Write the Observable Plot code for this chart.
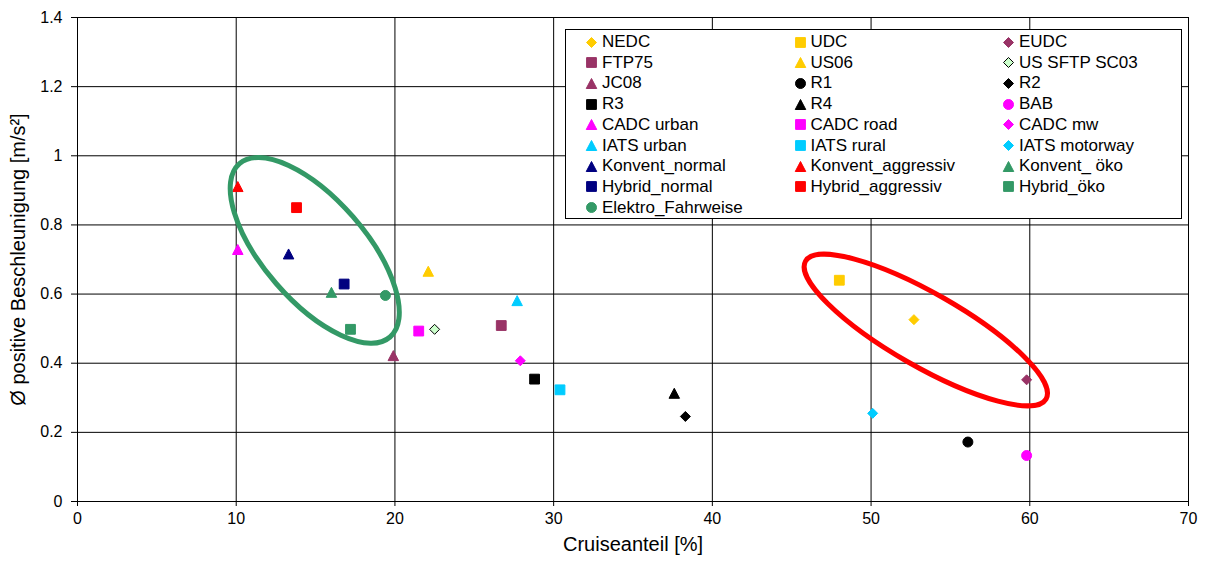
<!DOCTYPE html>
<html>
<head>
<meta charset="utf-8">
<script src="https://cdn.jsdelivr.net/npm/d3@7"></script>
<script src="https://cdn.jsdelivr.net/npm/@observablehq/plot@0.6"></script>
<style>
html,body{margin:0;padding:0;background:#fff;}
#wrap{position:relative;width:1206px;height:566px;font-family:"Liberation Sans",Arial,sans-serif;color:#000;}
#legend{position:absolute;left:565px;top:29px;width:617px;height:190px;border:1px solid #000;background:#fff;box-sizing:border-box;}
.item{position:absolute;height:20px;display:flex;align-items:center;font-size:17px;white-space:pre;line-height:20px;}
.item svg{margin-right:4px;flex:none;}
</style>
</head>
<body>
<div id="wrap"></div>
<script>
// ---- data ----
const names = ["NEDC","UDC","EUDC","FTP75","US06","US SFTP SC03","JC08","R1","R2","R3","R4","BAB",
  "CADC urban","CADC road","CADC mw","IATS urban","IATS rural","IATS motorway",
  "Konvent_normal","Konvent_aggressiv","Konvent_ öko","Hybrid_normal","Hybrid_aggressiv","Hybrid_öko","Elektro_Fahrweise"];
const cruise = [52.7, 48.0, 59.8, 26.7, 22.1, 22.5, 19.9, 56.1, 38.3, 28.8, 37.6, 59.8,
  10.1, 21.5, 27.9, 27.7, 30.4, 50.1,
  13.3, 10.1, 16.0, 16.8, 13.8, 17.2, 19.4];
const accel = [0.526, 0.640, 0.352, 0.509, 0.666, 0.498, 0.422, 0.172, 0.246, 0.354, 0.313, 0.133,
  0.729, 0.493, 0.407, 0.581, 0.323, 0.255,
  0.716, 0.911, 0.605, 0.629, 0.850, 0.498, 0.596];
const shapes = ["diamond","square","diamond","square","triangle","diamond","triangle","circle","diamond","square","triangle","circle",
  "triangle","square","diamond","triangle","square","diamond",
  "triangle","triangle","triangle","square","square","square","circle"];
const fills = ["#FFCC00","#FFCC00","#993366","#993366","#FFCC00","#CCFFCC","#993366","#000000","#000000","#000000","#000000","#FF00FF",
  "#FF00FF","#FF00FF","#FF00FF","#00CCFF","#00CCFF","#00CCFF",
  "#000080","#FF0000","#339966","#000080","#FF0000","#339966","#339966"];
const strokes = fills.map((c, i) => names[i] === "US SFTP SC03" ? "#000000" : c);
const xTicks = [0, 10, 20, 30, 40, 50, 60, 70];
const yTicks = [0, 0.2, 0.4, 0.6, 0.8, 1, 1.2, 1.4];
const ellipseCx = [14.98, 53.48];
const ellipseCy = [0.725, 0.4946];
const ellipseColors = ["#339966", "#FF0000"];

// ---- styles for annotations (pixel radii, rotation) ----
const ellipseStyle = [{rx: 114.8, ry: 50.9, angle: 49}, {rx: 138.6, ry: 36.6, angle: 29.8}];

// ---- custom Excel-like symbols ----
const half = size => Math.sqrt(size / Math.PI);
const sym = {
  square: {draw(ctx, size) { const s = half(size) * 0.98; ctx.rect(-s, -s, 2 * s, 2 * s); }},
  diamond: {draw(ctx, size) { const s = half(size); ctx.moveTo(0, -s); ctx.lineTo(s, 0); ctx.lineTo(0, s); ctx.lineTo(-s, 0); ctx.closePath(); }},
  triangle: {draw(ctx, size) { const s = half(size); ctx.moveTo(0, -s); ctx.lineTo(s * 1.05, s); ctx.lineTo(-s * 1.05, s); ctx.closePath(); }},
  circle: {draw(ctx, size) { const s = half(size); ctx.moveTo(s, 0); ctx.arc(0, 0, s, 0, 2 * Math.PI); }}
};

const idx = d3.range(names.length);
const dotMarks = Object.keys(sym).map(shape =>
  Plot.dot(idx.filter(i => shapes[i] === shape), {
    x: i => cruise[i], y: i => accel[i],
    symbol: sym[shape], r: 5,
    fill: i => fills[i], stroke: i => strokes[i], strokeWidth: 1
  })
);

const ellipseMark = (index, scales) => {
  const g = d3.create("svg:g");
  ellipseCx.forEach((cx, k) => {
    g.append("ellipse")
      .attr("cx", 0).attr("cy", 0)
      .attr("rx", ellipseStyle[k].rx).attr("ry", ellipseStyle[k].ry)
      .attr("transform", `translate(${scales.x(cx)},${scales.y(ellipseCy[k])}) rotate(${ellipseStyle[k].angle})`)
      .attr("fill", "none").attr("stroke", ellipseColors[k]).attr("stroke-width", 5);
  });
  return g.node();
};

const chart = Plot.plot({
  width: 1206, height: 566,
  marginLeft: 77, marginRight: 18, marginTop: 17, marginBottom: 65,
  x: {domain: [0, 70]},
  y: {domain: [0, 1.4]},
  color: {type: "identity"},
  style: {fontFamily: "'Liberation Sans', Arial, sans-serif", fontSize: "16px", background: "#fff", color: "#000", overflow: "visible"},
  marks: [
    Plot.gridX(xTicks, {stroke: "#000", strokeOpacity: 1}),
    Plot.gridY(yTicks, {stroke: "#000", strokeOpacity: 1}),
    Plot.axisX({ticks: xTicks, tickSize: 5, tickPadding: 6, label: null, tickFormat: d3.format("~g"), fontSize: 16}),
    Plot.axisY({ticks: yTicks, tickSize: 6, tickPadding: 9, label: null, tickFormat: d3.format("~g"), fontSize: 16}),
    Plot.ruleX([0], {stroke: "#000"}),
    Plot.ruleY([0], {stroke: "#000"}),
    ...dotMarks,
    ellipseMark,
    Plot.text(["Cruiseanteil [%]"], {text: d => d, frameAnchor: "bottom", dy: 49, fontSize: 20}),
    Plot.text(["Ø positive Beschleunigung [m/s²]"], {text: d => d, frameAnchor: "left", textAnchor: "middle", dx: -59, rotate: -90, fontSize: 20})
  ]
});

const wrap = document.getElementById("wrap");
wrap.appendChild(chart);

// ---- legend (HTML overlay inside the plot area) ----
const legend = document.createElement("div");
legend.id = "legend";
wrap.appendChild(legend);
names.forEach((name, i) => {
  const row = Math.floor(i / 3), col = i % 3;
  const item = document.createElement("div");
  item.className = "item";
  item.style.left = (19 + col * 208.5) + "px";
  item.style.top = (2 + row * 20.7) + "px";
  const p = d3.path();
  sym[shapes[i]].draw(p, 25 * Math.PI);
  item.innerHTML = `<svg width="13" height="13" viewBox="-6.5 -6.5 13 13"><path d="${p.toString()}" fill="${fills[i]}" stroke="${strokes[i]}" stroke-width="1"/></svg>`;
  const span = document.createElement("span");
  span.textContent = name;
  item.appendChild(span);
  legend.appendChild(item);
});
</script>
</body>
</html>
